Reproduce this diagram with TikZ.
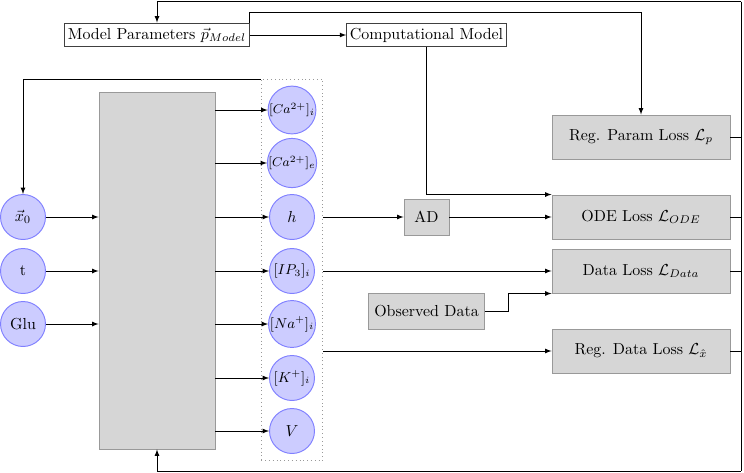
\documentclass[tikz,border=0pt]{standalone}
\usetikzlibrary{fit}

\begin{document}
\begin{tikzpicture}[x=0.627pt,y=-0.627pt,>=latex,
    var/.style={circle,draw=blue!50,fill=blue!20,semithick,minimum size=28.2pt,inner sep=0pt},
    loss/.style={rectangle,draw=black!40,fill=black!16,semithick,minimum width=111.6pt,minimum height=27.6pt},
    plain/.style={rectangle,draw=black!75,fill=white,semithick,inner sep=2pt,minimum height=15pt}]
    \useasboundingbox (0,0) rectangle (744,472);

    % 上段: パラメータとモデル
    \node[plain] (params) at (157,35) {Model Parameters $\vec{p}_{Model}$};
    \node[plain] (comp) at (426.5,35) {Computational Model};

    % ネットワーク本体 (灰色の箱)
    \node[rectangle,draw=black!40,fill=black!16,semithick,minimum width=72.7pt,minimum height=223.8pt] (main) at (157,270.5) {};

    % 入力
    \node[var] (x0) at (23,217) {$\vec{x}_0$};
    \node[var] (t) at (23,271) {t};
    \node[var] (glu) at (23,324) {Glu};

    % 出力 (状態変数)
    \node[var,font=\footnotesize] (cai) at (292,110) {$[Ca^{2+}]_i$};
    \node[var,font=\footnotesize] (cae) at (292,163) {$[Ca^{2+}]_e$};
    \node[var] (h) at (292,217) {$h$};
    \node[var,font=\small] (ip3) at (292,271) {$[IP_3]_i$};
    \node[var,font=\small] (na) at (292,324) {$[Na^{+}]_i$};
    \node[var,font=\small] (k) at (292,378) {$[K^{+}]_i$};
    \node[var] (v) at (292,431) {$V$};
    \node[draw=black!40,dotted,fit=(cai)(v),inner sep=4pt] (states) {};

    % 損失
    \node[loss] (regp) at (641,137) {Reg. Param Loss $\mathcal{L}_p$};
    \node[loss] (ode) at (641,217) {ODE Loss $\mathcal{L}_{ODE}$};
    \node[loss] (dataloss) at (641,271) {Data Loss $\mathcal{L}_{Data}$};
    \node[loss] (regdata) at (641,351) {Reg. Data Loss $\mathcal{L}_{\hat{x}}$};
    \node[loss,minimum width=28.2pt,minimum height=22.6pt] (ad) at (426.5,217) {AD};
    \node[loss,minimum width=70.9pt,minimum height=22.6pt] (obs) at (426.5,311) {Observed Data};

    % 入力 -> 本体 -> 出力
    \foreach \n in {x0,t,glu}
        \draw[->] (\n) -- (\n -| main.west);
    \foreach \n in {cai,cae,h,ip3,na,k,v}
        \draw[->] (\n -| main.east) -- (\n);

    % 出力 -> 損失
    \draw[->] (states.east |- h) -- (ad);
    \draw[->] (ad) -- (ode);
    \draw[->] (states.east |- ip3) -- (dataloss);
    \draw[->] (states.east |- regdata) -- (regdata);
    \draw[->] (obs.east) -- ++(24,0) |- (dataloss.south west);
    \draw[->] (comp.south) |- (ode.north west);
    \draw[->] (params) -- (comp);
    \draw[->] (params.north east) -- ++(0,-10) -| (regp.north);
    \draw[->] (states.north west) -| (x0.north);

    % 右端の帰還線
    \coordinate (rt) at (741,1.5);
    \coordinate (rb) at (741,471);
    \foreach \n in {regp,ode,dataloss,regdata}
        \draw (\n.east) -- (\n.east -| rt);
    \draw[->] (rt) -| (params.north);
    \draw (rt) -- (rb);
    \draw[->] (rb) -| (main.south);
\end{tikzpicture}
\end{document}
